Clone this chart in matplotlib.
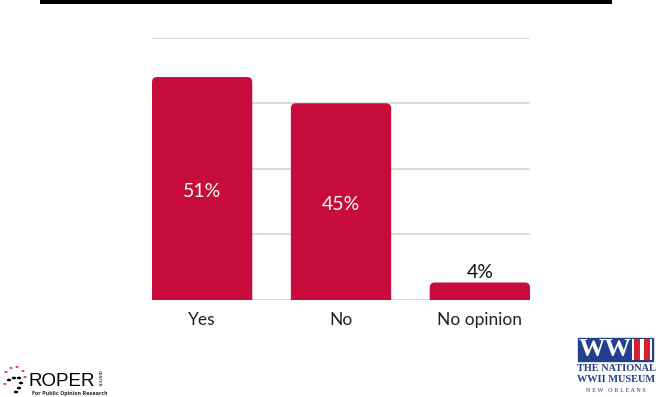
import numpy as np
import matplotlib
matplotlib.use("Agg")
import matplotlib.pyplot as plt
from matplotlib.patches import FancyBboxPatch, Rectangle, Circle

# datos
categorias = ["Yes", "No", "No opinion"]
valores = [51, 45, 4]
etiquetas = ["51%", "45%", "4%"]
color_barra = "#C70C3C"

W, H = 660, 397


def fx(px):
    return px / W


def fy(py):
    return 1 - py / H


fig = plt.figure(figsize=(6.6, 3.97), dpi=100)
fig.patch.set_facecolor("white")

# ejes: x 152..530 px, y 37.7..300 px
ax = fig.add_axes([fx(152), fy(300), fx(530) - fx(152), fy(37.7) - fy(300)])
ax.set_xlim(-0.361, 2.361)
ax.set_ylim(0, 60)
ax.set_yticks([0, 15, 30, 45, 60])
ax.yaxis.grid(True, color="#d9d9d9", linewidth=1.3)
ax.set_axisbelow(True)
ax.tick_params(axis="y", left=False, labelleft=False)
ax.tick_params(axis="x", bottom=False, pad=5)
for s in ax.spines.values():
    s.set_visible(False)

x = np.arange(len(categorias))
ancho = 0.722
ax.set_xticks(x)
ax.set_xticklabels(categorias, fontsize=12.5, family="Lato", color="#222222")

# relacion de aspecto para esquinas redondeadas
bbox = ax.get_position()
px_x = 2.722 / (bbox.width * W)
px_y = 60 / (bbox.height * H)
aspecto = px_y / px_x
radio = 5 * px_x

for xi, v, et in zip(x, valores, etiquetas):
    barra = FancyBboxPatch((xi - ancho / 2, -10), ancho, v + 10,
                           boxstyle="round,pad=0,rounding_size=%f" % radio,
                           mutation_aspect=aspecto,
                           facecolor=color_barra, edgecolor="none", zorder=3)
    ax.add_patch(barra)
    if v > 10:
        ax.text(xi, v / 2 - 0.6, et, ha="center", va="center", color="white",
                fontsize=14, family="Lato", zorder=4)
    else:
        ax.text(xi, v + 0.3, et, ha="center", va="bottom", color="#111111",
                fontsize=14, family="Lato", zorder=4)

# linea negra superior
fig.add_artist(Rectangle((fx(40), fy(3.5)), fx(612) - fx(40), 3.5 / H,
                         transform=fig.transFigure, facecolor="black",
                         edgecolor="none"))

# logo ROPER (aproximado)
negros = [(9, 380), (14, 378), (19, 378), (21, 383), (19, 388), (16, 392)]
rojos = [(6, 372), (11, 368), (17, 367), (23, 371), (25, 377), (5, 384)]
for (px, py) in negros:
    fig.add_artist(Circle((fx(px), fy(py)), 2.2 / W, transform=fig.transFigure,
                          facecolor="black", edgecolor="none"))
for (px, py) in rojos:
    fig.add_artist(Circle((fx(px), fy(py)), 1.6 / W, transform=fig.transFigure,
                          facecolor="#e0304a", edgecolor="none"))
fig.text(fx(29), fy(386.5), "ROPER", fontsize=13.5, family="Liberation Sans",
         color="black", ha="left", va="baseline")
fig.text(fx(99), fy(378), "CENTER", fontsize=3, family="DejaVu Sans",
         rotation=-90, ha="center", va="center", color="black")
fig.text(fx(32), fy(393), "For Public Opinion Research", fontsize=3.4,
         family="DejaVu Sans", fontweight="bold", ha="left", va="center",
         color="#333333")

# logo WWII museum (aproximado)
azul = "#23408e"
rojo = "#d8202f"
fig.add_artist(Rectangle((fx(578), fy(361)), fx(653) - fx(578), 23 / H,
                         transform=fig.transFigure, facecolor=azul,
                         edgecolor=azul, linewidth=1))
fig.add_artist(Rectangle((fx(632), fy(360)), 20 / W, 21 / H,
                         transform=fig.transFigure, facecolor="white",
                         edgecolor="none"))
for x0 in (634, 644):
    fig.add_artist(Rectangle((fx(x0), fy(360)), 6 / W, 21 / H,
                             transform=fig.transFigure, facecolor=rojo,
                             edgecolor="none"))
fig.text(fx(605), fy(350), "WW", fontsize=19, family="Liberation Serif",
         fontweight="bold", color="white", ha="center", va="center")
fig.text(fx(616), fy(368.5), "THE NATIONAL", fontsize=7.4,
         family="Liberation Serif", fontweight="bold", color=azul,
         ha="center", va="center")
fig.text(fx(616), fy(379.5), "WWII MUSEUM", fontsize=7.4,
         family="Liberation Serif", fontweight="bold", color=azul,
         ha="center", va="center")
fig.text(fx(616), fy(391), "N E W   O R L E A N S", fontsize=4.5,
         family="Liberation Serif", color=azul, ha="center", va="center")

fig.savefig("out.png", dpi=100)
